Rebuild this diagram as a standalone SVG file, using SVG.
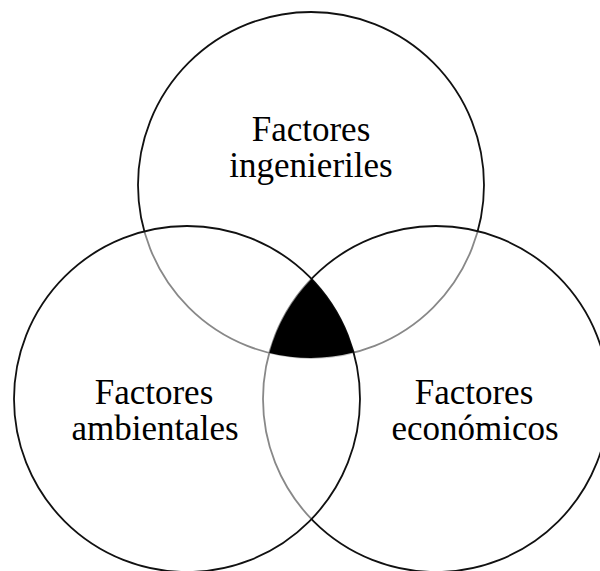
<svg xmlns="http://www.w3.org/2000/svg" width="600" height="571" viewBox="0 0 600 571">
<style>
.c{fill:#ffffff;fill-opacity:0.5;stroke:#111;stroke-width:1.8}
.t{font-family:"Liberation Serif","Times New Roman",serif;font-size:35px;fill:#000;text-anchor:middle}
</style>
<rect width="600" height="571" fill="#fff"/>
<g id="top-node">
<circle class="c" cx="311" cy="185" r="173"/>
</g>
<g id="right-node">
<circle class="c" cx="436" cy="399" r="173"/>
</g>
<g id="left-node">
<circle class="c" cx="187" cy="399" r="173"/>
</g>
<g id="center-node">
<path d="M311.5 279 A173 173 0 0 0 269.3 352.9 A173 173 0 0 0 353.6 352.6 A173 173 0 0 0 311.5 279 Z" fill="#000"/>
</g>
<g id="labels">
<text class="t" x="311" y="141">Factores</text>
<text class="t" x="311" y="177">ingenieriles</text>
<text class="t" x="154" y="404">Factores</text>
<text class="t" x="155" y="440">ambientales</text>
<text class="t" x="474" y="404">Factores</text>
<text class="t" x="475" y="440">económicos</text>
</g>
<g id="connectors"></g>
</svg>
